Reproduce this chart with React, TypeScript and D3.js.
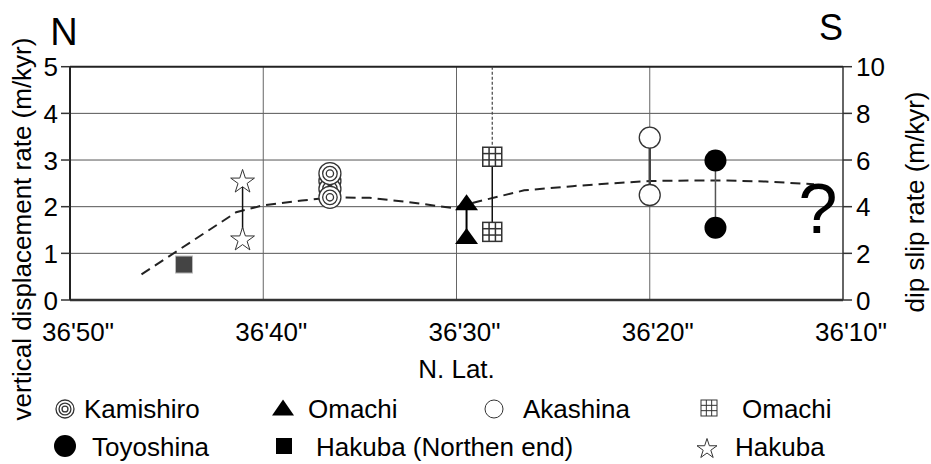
import React, { useEffect, useRef } from 'react';
import * as d3 from 'd3';

// latitude given as the minutes part of 36°xx'
const xTicks = [50, 40, 30, 20, 10];
const xTickLabels = ['36\'50"', '36\'40"', '36\'30"', '36\'20"', '36\'10"'];
const yTicks = [0, 1, 2, 3, 4, 5];
const y2Ticks = [0, 2, 4, 6, 8, 10];

// sites: [lat, value] pairs (vertical displacement rate, m/kyr)
const hakubaStar = [[41.07, 2.53], [41.07, 1.29]];
const hakubaNorth = [[44.1, 0.76]];
const kamishiro = [[36.55, 2.55], [36.55, 2.38], [36.55, 2.71], [36.55, 2.2]];
const omachiTri = [[29.48, 2.06], [29.48, 1.34]];
const omachiGrid = [[28.15, 3.07], [28.15, 1.46]];
const akashina = [[20.0, 3.48], [20.0, 2.25]];
const toyoshina = [[16.6, 2.99], [16.6, 1.55]];

// dashed trend line
const trend = [
  [46.3, 0.55], [41.4, 1.88], [40.0, 2.03], [38.0, 2.13], [36.5, 2.2], [34.5, 2.19],
  [32.5, 2.1], [30.2, 1.97], [28.5, 2.15], [26.5, 2.35], [24.0, 2.44], [22.0, 2.5],
  [20.0, 2.55], [18.0, 2.56], [16.0, 2.56], [14.0, 2.54], [11.5, 2.48]
];

const FONT = 'Liberation Sans, Arial, Helvetica, sans-serif';

function App() {
  const svgRef = useRef<SVGSVGElement>(null);

  useEffect(() => {
    const width = 931;
    const height = 464;
    const margin = { top: 66.7, right: 88, bottom: 164, left: 70 };

    const svg = d3.select(svgRef.current)
      .attr('width', width)
      .attr('height', height);
    svg.selectAll('*').remove();

    const x = d3.scaleLinear().domain([50, 10]).range([margin.left, width - margin.right]);
    const y = d3.scaleLinear().domain([0, 5]).range([height - margin.bottom, margin.top]);
    const y2 = d3.scaleLinear().domain([0, 10]).range([height - margin.bottom, margin.top]);

    const g = svg.append('g').attr('font-family', FONT);

    // grid
    g.selectAll('.hgrid')
      .data(yTicks.slice(1, -1))
      .enter().append('line')
      .attr('x1', x(50)).attr('x2', x(10))
      .attr('y1', d => y(d)).attr('y2', d => y(d))
      .attr('stroke', '#555').attr('stroke-width', 1);

    g.selectAll('.vgrid')
      .data(xTicks.slice(1, -1))
      .enter().append('line')
      .attr('x1', d => x(d)).attr('x2', d => x(d))
      .attr('y1', y(5)).attr('y2', y(0))
      .attr('stroke', '#666').attr('stroke-width', 1);

    // frame
    g.append('line').attr('x1', x(50)).attr('x2', x(10)).attr('y1', y(5)).attr('y2', y(5))
      .attr('stroke', '#222').attr('stroke-width', 2);
    g.append('line').attr('x1', x(50)).attr('x2', x(10)).attr('y1', y(0)).attr('y2', y(0))
      .attr('stroke', '#333').attr('stroke-width', 2.5);
    g.append('line').attr('x1', x(50)).attr('x2', x(50)).attr('y1', y(5)).attr('y2', y(0))
      .attr('stroke', '#222').attr('stroke-width', 2);
    g.append('line').attr('x1', x(10)).attr('x2', x(10)).attr('y1', y(5)).attr('y2', y(0))
      .attr('stroke', '#333').attr('stroke-width', 1.5);

    // left ticks
    g.selectAll('.ltick')
      .data(yTicks)
      .enter().append('line')
      .attr('x1', x(50) - 9).attr('x2', x(50))
      .attr('y1', d => y(d)).attr('y2', d => y(d))
      .attr('stroke', '#333').attr('stroke-width', 1.5);
    g.selectAll('.llabel')
      .data(yTicks)
      .enter().append('text')
      .attr('x', x(50) - 12)
      .attr('y', d => y(d) + 9.5)
      .attr('text-anchor', 'end')
      .attr('font-size', '26px')
      .text(d => d);

    // right ticks
    g.selectAll('.rtick')
      .data(y2Ticks)
      .enter().append('line')
      .attr('x1', x(10)).attr('x2', x(10) + 9)
      .attr('y1', d => y2(d)).attr('y2', d => y2(d))
      .attr('stroke', '#333').attr('stroke-width', 1.5);
    g.selectAll('.rlabel')
      .data(y2Ticks)
      .enter().append('text')
      .attr('x', x(10) + 13)
      .attr('y', d => y2(d) + 9.5)
      .attr('text-anchor', 'start')
      .attr('font-size', '26px')
      .text(d => d);

    // x tick labels
    g.selectAll('.xlabel')
      .data(xTicks)
      .enter().append('text')
      .attr('x', d => x(d) + 8)
      .attr('y', y(0) + 41)
      .attr('text-anchor', 'middle')
      .attr('font-size', '26px')
      .text((d, i) => xTickLabels[i]);

    g.append('text')
      .attr('x', x(30))
      .attr('y', y(0) + 78)
      .attr('text-anchor', 'middle')
      .attr('font-size', '26px')
      .text('N. Lat.');

    // axis titles
    g.append('text')
      .attr('transform', `translate(31,229) rotate(-90)`)
      .attr('text-anchor', 'middle')
      .attr('font-size', '26px')
      .text('vertical displacement rate (m/kyr)');
    g.append('text')
      .attr('transform', `translate(924,202) rotate(-90)`)
      .attr('text-anchor', 'middle')
      .attr('font-size', '26px')
      .text('dip slip rate (m/kyr)');

    g.append('text').attr('x', 64).attr('y', 45).attr('text-anchor', 'middle')
      .attr('font-size', '38px').text('N');
    g.append('text').attr('x', 831).attr('y', 40).attr('text-anchor', 'middle')
      .attr('font-size', '36px').text('S');

    // dashed trend
    const line = d3.line<number[]>()
      .x(d => x(d[0]))
      .y(d => y(d[1]))
      .curve(d3.curveLinear);
    g.append('path')
      .datum(trend)
      .attr('d', line)
      .attr('fill', 'none')
      .attr('stroke', '#222')
      .attr('stroke-width', 2)
      .attr('stroke-dasharray', '10,6');

    // dotted line above grid-square Omachi
    g.append('line')
      .attr('x1', x(omachiGrid[0][0])).attr('x2', x(omachiGrid[0][0]))
      .attr('y1', y(5)).attr('y2', y(omachiGrid[0][1]) - 10)
      .attr('stroke', '#444').attr('stroke-width', 1.2)
      .attr('stroke-dasharray', '3,2');

    // connectors
    const connect = (pts: number[][], color: string, w: number) => {
      g.append('line')
        .attr('x1', x(pts[0][0])).attr('x2', x(pts[1][0]))
        .attr('y1', y(pts[0][1])).attr('y2', y(pts[1][1]))
        .attr('stroke', color).attr('stroke-width', w);
    };
    connect(hakubaStar, '#111', 1.5);
    connect(omachiTri, '#000', 2);
    connect(omachiGrid, '#111', 1.5);
    connect(akashina, '#444', 2.5);
    connect(toyoshina, '#555', 1.5);

    // marker helpers
    const starPath = (r: number) => d3.symbol().type(d3.symbolStar).size(r * r / 0.8908130915292852)();
    const drawStar = (sel: any, cx: number, cy: number, r: number) => {
      sel.append('path')
        .attr('d', starPath(r))
        .attr('transform', `translate(${cx},${cy})`)
        .attr('fill', '#fff').attr('stroke', '#333').attr('stroke-width', 1);
    };
    const drawTri = (sel: any, cx: number, cy: number, w: number, h: number) => {
      sel.append('path')
        .attr('d', `M${cx},${cy - h * 0.6}L${cx + w / 2},${cy + h * 0.4}L${cx - w / 2},${cy + h * 0.4}Z`)
        .attr('fill', '#000');
    };
    const drawGrid = (sel: any, cx: number, cy: number, s: number, sw: number) => {
      const gg = sel.append('g').attr('transform', `translate(${cx - s / 2},${cy - s / 2})`);
      gg.append('rect').attr('width', s).attr('height', s)
        .attr('fill', '#fff').attr('stroke', '#333').attr('stroke-width', sw);
      [1, 2].forEach(k => {
        gg.append('line').attr('x1', (s * k) / 3).attr('x2', (s * k) / 3).attr('y1', 0).attr('y2', s)
          .attr('stroke', '#333').attr('stroke-width', sw);
        gg.append('line').attr('y1', (s * k) / 3).attr('y2', (s * k) / 3).attr('x1', 0).attr('x2', s)
          .attr('stroke', '#333').attr('stroke-width', sw);
      });
    };
    const drawRings = (sel: any, cx: number, cy: number, r: number) => {
      [r, r * 0.66, r * 0.33].forEach((rr, i) => {
        sel.append('circle').attr('cx', cx).attr('cy', cy).attr('r', rr)
          .attr('fill', i === 0 ? '#fff' : 'none').attr('stroke', '#333').attr('stroke-width', 1.3);
      });
    };

    // points
    hakubaNorth.forEach(d => {
      g.append('rect')
        .attr('x', x(d[0]) - 8.5).attr('y', y(d[1]) - 8.5)
        .attr('width', 17).attr('height', 17)
        .attr('fill', '#444').attr('stroke', '#bbb').attr('stroke-width', 1);
    });
    hakubaStar.forEach(d => drawStar(g, x(d[0]), y(d[1]), 12.5));
    kamishiro.forEach(d => drawRings(g, x(d[0]), y(d[1]), 11));
    omachiTri.forEach(d => drawTri(g, x(d[0]), y(d[1]), 23, 16));
    omachiGrid.forEach(d => drawGrid(g, x(d[0]), y(d[1]), 19, 1.5));
    akashina.forEach(d => {
      g.append('circle').attr('cx', x(d[0])).attr('cy', y(d[1])).attr('r', 10.5)
        .attr('fill', '#fff').attr('stroke', '#333').attr('stroke-width', 1.3);
    });
    toyoshina.forEach(d => {
      g.append('circle').attr('cx', x(d[0])).attr('cy', y(d[1])).attr('r', 11)
        .attr('fill', '#000');
    });

    g.append('text').attr('x', 818).attr('y', 233).attr('text-anchor', 'middle')
      .attr('font-size', '70px').text('?');

    // legend
    const row1 = 418;
    const row2 = 456;
    drawRings(g, 65, row1 - 9, 9);
    g.append('text').attr('x', 84).attr('y', row1).attr('font-size', '26px').text('Kamishiro');
    drawTri(g, 283, row1 - 9, 22, 16);
    g.append('text').attr('x', 308).attr('y', row1).attr('font-size', '26px').text('Omachi');
    g.append('circle').attr('cx', 494).attr('cy', row1 - 9).attr('r', 9)
      .attr('fill', '#fff').attr('stroke', '#333').attr('stroke-width', 1);
    g.append('text').attr('x', 523).attr('y', row1).attr('font-size', '26px').text('Akashina');
    drawGrid(g, 709, row1 - 10, 16, 1);
    g.append('text').attr('x', 742).attr('y', row1).attr('font-size', '26px').text('Omachi');

    g.append('circle').attr('cx', 65).attr('cy', row2 - 10).attr('r', 11).attr('fill', '#000');
    g.append('text').attr('x', 92).attr('y', row2).attr('font-size', '26px').text('Toyoshina');
    g.append('rect').attr('x', 276).attr('y', row2 - 18).attr('width', 16).attr('height', 16).attr('fill', '#000');
    g.append('text').attr('x', 316).attr('y', row2).attr('font-size', '26px').text('Hakuba (Northen end)');
    drawStar(g, 707, row2 - 7, 10.5);
    g.append('text').attr('x', 735).attr('y', row2).attr('font-size', '26px').text('Hakuba');
  }, []);

  return (
    <svg ref={svgRef} style={{ position: 'absolute', left: 0, top: 0, background: '#fff' }}></svg>
  );
}

export default App;
